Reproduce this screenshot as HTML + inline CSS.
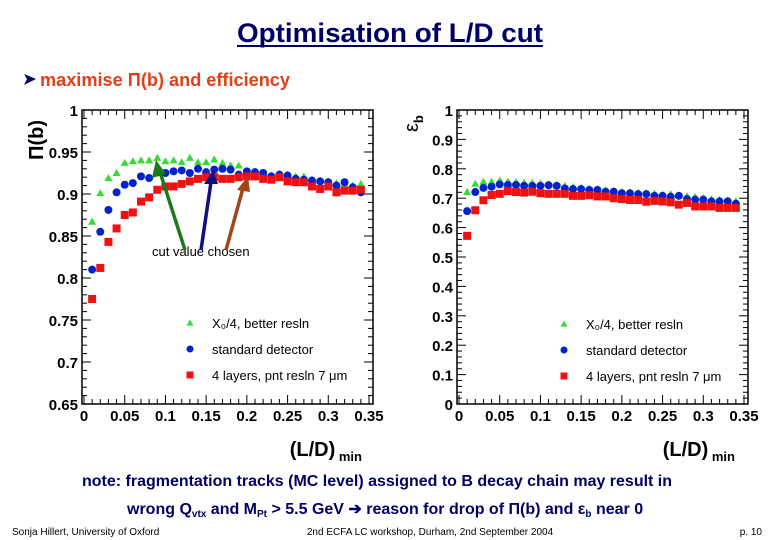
<!DOCTYPE html>
<html><head><meta charset="utf-8">
<style>
body{margin:0;width:780px;height:540px;background:#fff;overflow:hidden;font-family:"Liberation Sans",Arial,sans-serif}
svg{position:absolute;left:0;top:0}
</style></head>
<body>
<svg width="780" height="540" font-family="Liberation Sans, Arial, sans-serif">
<text x="390" y="42" text-anchor="middle" font-size="27" font-weight="bold" fill="#000066" textLength="306" lengthAdjust="spacingAndGlyphs">Optimisation of L/D cut</text>
<line x1="237" y1="46" x2="543" y2="46" stroke="#000066" stroke-width="2"/>
<polygon points="24,74 36,79 24,85 27,79" fill="#000066"/>
<text x="40" y="86" font-size="18" font-weight="bold" fill="#e0401a" textLength="250" lengthAdjust="spacingAndGlyphs">maximise Π(b) and efficiency</text>
<g id="left"></g>
<g id="right"></g>
<text x="152" y="256" font-size="13" fill="#000">cut value chosen</text>
<g>
<line x1="185" y1="250" x2="160" y2="172" stroke="#1a7a1a" stroke-width="3.5"/><polygon points="156,160 152,178 166,174" fill="#1a7a1a"/>
<line x1="201" y1="250" x2="211" y2="182" stroke="#101080" stroke-width="3.5"/><polygon points="213,170 204,184 218,184" fill="#101080"/>
<line x1="226" y1="250" x2="243" y2="188" stroke="#a0461a" stroke-width="3.5"/><polygon points="248,176 237,190 250,192" fill="#a0461a"/>
</g>
<text x="377" y="486" text-anchor="middle" font-size="16" font-weight="bold" fill="#000066" textLength="590" lengthAdjust="spacingAndGlyphs">note: fragmentation tracks (MC level) assigned to B decay chain may result in</text>
<text x="127" y="514" font-size="16" font-weight="bold" fill="#000066">wrong Q<tspan font-size="10" dy="3">vtx</tspan><tspan dy="-3"> and M</tspan><tspan font-size="10" dy="3">Pt</tspan><tspan dy="-3"> &gt; 5.5 GeV ➔ reason for drop of Π(b) and ε</tspan><tspan font-size="10" dy="3">b</tspan><tspan dy="-3"> near 0</tspan></text>
<text x="12" y="535" font-size="10" fill="#000">Sonja Hillert, University of Oxford</text>
<text x="430" y="535" text-anchor="middle" font-size="10" fill="#000">2nd ECFA LC workshop, Durham, 2nd September 2004</text>
<text x="762" y="535" text-anchor="end" font-size="10" fill="#000">p. 10</text>
</svg>
<script>
const xs = [0.01,0.02,0.03,0.04,0.05,0.06,0.07,0.08,0.09,0.10,0.11,0.12,0.13,0.14,0.15,0.16,0.17,0.18,0.19,0.20,0.21,0.22,0.23,0.24,0.25,0.26,0.27,0.28,0.29,0.30,0.31,0.32,0.33,0.34];
const purityGreen = [0.867,0.901,0.919,0.925,0.937,0.939,0.940,0.940,0.943,0.939,0.940,0.938,0.943,0.938,0.938,0.941,0.937,0.934,0.934,0.927,0.926,0.925,0.922,0.924,0.923,0.921,0.921,0.917,0.916,0.915,0.913,0.912,0.910,0.912];
const purityBlue = [0.810,0.855,0.881,0.902,0.911,0.913,0.921,0.919,0.926,0.925,0.927,0.928,0.925,0.930,0.926,0.929,0.930,0.929,0.923,0.927,0.926,0.925,0.921,0.923,0.922,0.918,0.917,0.916,0.915,0.914,0.910,0.914,0.908,0.902];
const purityRed = [0.775,0.812,0.843,0.859,0.875,0.878,0.891,0.896,0.905,0.909,0.909,0.912,0.915,0.918,0.920,0.920,0.918,0.918,0.920,0.921,0.921,0.918,0.917,0.920,0.915,0.914,0.914,0.909,0.906,0.909,0.902,0.904,0.904,0.905];
const effGreen = [0.721,0.749,0.756,0.756,0.760,0.757,0.755,0.753,0.752,0.750,0.748,0.746,0.742,0.738,0.736,0.733,0.731,0.728,0.725,0.722,0.720,0.718,0.717,0.716,0.713,0.714,0.710,0.707,0.704,0.700,0.697,0.695,0.693,0.690];
const effBlue = [0.656,0.721,0.735,0.739,0.747,0.745,0.745,0.742,0.742,0.742,0.744,0.742,0.733,0.731,0.731,0.728,0.728,0.722,0.722,0.717,0.717,0.714,0.714,0.708,0.708,0.705,0.708,0.697,0.695,0.695,0.689,0.689,0.689,0.681];
const effRed = [0.572,0.659,0.693,0.711,0.715,0.724,0.721,0.719,0.722,0.717,0.715,0.715,0.715,0.708,0.708,0.710,0.706,0.706,0.700,0.697,0.694,0.694,0.688,0.691,0.689,0.686,0.678,0.684,0.672,0.672,0.672,0.667,0.667,0.667];
const xTicks = ["0","0.05","0.1","0.15","0.2","0.25","0.3","0.35"];
const leftYTicks = ["0.65","0.7","0.75","0.8","0.85","0.9","0.95","1"];
const rightYTicks = ["0","0.1","0.2","0.3","0.4","0.5","0.6","0.7","0.8","0.9","1"];
const legendLabels = ["X₀/4, better resln","standard detector","4 layers, pnt resln 7 μm"];

const NS="http://www.w3.org/2000/svg";
function mk(p,t,a){const e=document.createElementNS(NS,t);for(const k in a)e.setAttribute(k,a[k]);p.appendChild(e);return e;}
function marker(g,type,cx,cy,s){
  s=s||4;let e;
  if(type==0){e=mk(g,'polygon',{points:`${cx},${cy-s} ${cx-s},${cy+s*0.75} ${cx+s},${cy+s*0.75}`,fill:'#33dd33'});}
  else if(type==1){e=mk(g,'circle',{cx:cx,cy:cy,r:s,fill:'#0022cc'});}
  else {e=mk(g,'rect',{x:cx-s,y:cy-s,width:2*s,height:2*s,fill:'#ee1111'});}
  return e;
}
function chart(g,o){
  const X=v=>o.x0+(v-0)/0.35*(o.x35-o.x0);
  const Y=v=>o.yb-(v-o.ymin)/(o.ymax-o.ymin)*(o.yb-o.yt);
  const f=mk(g,'rect',{x:o.fl,y:o.yt,width:o.fr-o.fl,height:o.yb-o.yt,fill:'none',stroke:'#000','stroke-width':1.5});
  
  
  for(let i=0;i<=35;i++){const v=i*0.01;const px=X(v);const L=i%5==0?9:5;
    mk(g,'line',{x1:px,y1:o.yb,x2:px,y2:o.yb-L,stroke:'#000'});
    mk(g,'line',{x1:px,y1:o.yt,x2:px,y2:o.yt+L,stroke:'#000'});}
  xTicks.forEach((t,i)=>{const e=mk(g,'text',{x:X(i*0.05),y:o.yb+17,'text-anchor':'middle','font-size':15,'font-weight':'bold'});e.textContent=t;
    
    });
  const n=o.yTicks.length-1, step=(o.ymax-o.ymin)/n;
  for(let i=0;i<=n*5;i++){const v=o.ymin+i*step/5;const py=Y(v);const L=i%5==0?9:5;
    mk(g,'line',{x1:o.fl,y1:py,x2:o.fl+L,y2:py,stroke:'#000'});
    mk(g,'line',{x1:o.fr,y1:py,x2:o.fr-L,y2:py,stroke:'#000'});}
  o.yTicks.forEach((t,i)=>{const e=mk(g,'text',{x:o.fl-4,y:Y(o.ymin+i*step)+6,'text-anchor':'end','font-size':15,'font-weight':'bold'});e.textContent=t;
    
    });
  const sers=[o.g,o.b,o.r];
  sers.forEach((s,k)=>{xs.forEach((xv,i)=>{const m=marker(g,k,X(xv),Y(s[i]));
    
    });});
  legendLabels.forEach((t,k)=>{const ly=o.legY+k*26;const m=marker(g,k,o.legX,ly,3.5);
    
    
    const e=mk(g,'text',{x:o.legX+22,y:ly+5,'font-size':13});e.textContent=t;
    
    });
  const xt=mk(g,'text',{x:o.xtX,y:456,'text-anchor':'end','font-size':20,'font-weight':'bold'});
  xt.innerHTML='(L/D)<tspan font-size="13" dy="5"> min</tspan>';
  
  
}
chart(document.getElementById('left'),{fl:82,fr:373,x0:84,x35:369,yt:110,yb:404,ymin:0.65,ymax:1,yTicks:leftYTicks,g:purityGreen,b:purityBlue,r:purityRed,legX:190,legY:323,xtX:362});
chart(document.getElementById('right'),{fl:457,fr:748,x0:459,x35:744,yt:110,yb:404,ymin:0,ymax:1,yTicks:rightYTicks,g:effGreen,b:effBlue,r:effRed,legX:564,legY:324,xtX:735});
const L=document.getElementById('left');
const yl=mk(L,'text',{x:0,y:0,transform:'translate(43,160) rotate(-90)','font-size':20,'font-weight':'bold'});yl.textContent='Π(b)';


const R=document.getElementById('right');
const yr=mk(R,'text',{x:0,y:0,transform:'translate(418,132) rotate(-90)','font-size':20});yr.innerHTML='ε<tspan font-size="13" font-weight="bold" dy="5">b</tspan>';


</script>
</body></html>
